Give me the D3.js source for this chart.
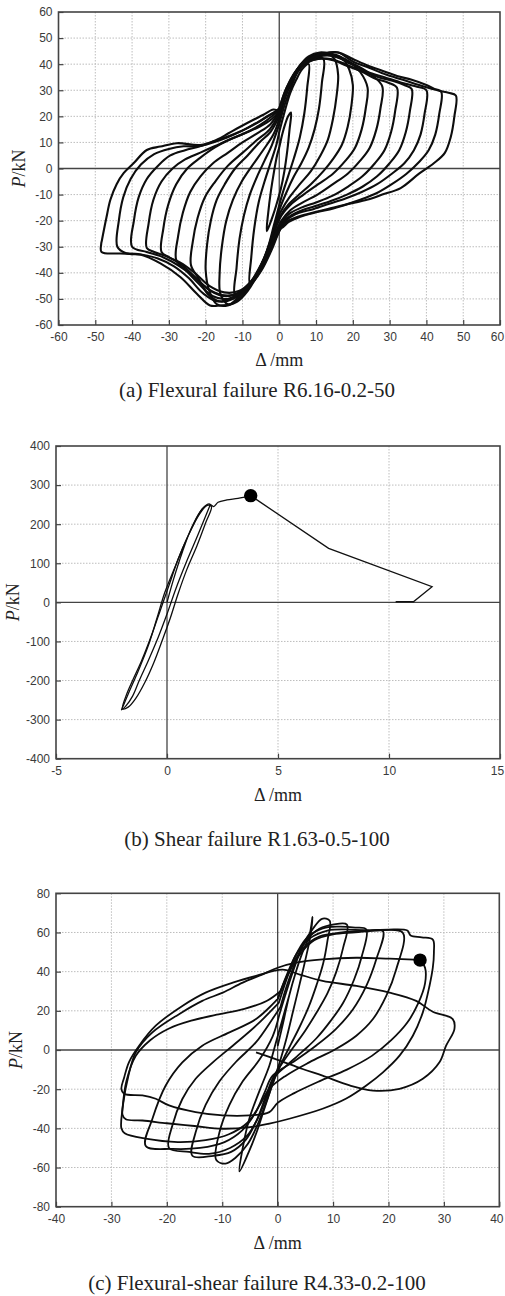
<!DOCTYPE html>
<html lang="en">
<head>
<meta charset="UTF-8">
<title>Hysteresis curves</title>
<script src="https://d3js.org/d3.v7.min.js"></script>
<style>
  body { margin: 0; background: #fff; }
  svg { display: block; }
  .tick text { font-family: Arial, "Liberation Sans", sans-serif; font-size: 12px; fill: #3a3a3a; }
  .tick line { stroke: #444; stroke-width: 1.2; }
  .title { font-family: "Liberation Serif", "Times New Roman", serif; fill: #222; }
</style>
</head>
<body>
<script>
// ---- (a) Flexural failure: ticks
const xTicksA = [-60, -50, -40, -30, -20, -10, 0, 10, 20, 30, 40, 50, 60];
const yTicksA = [-60, -50, -40, -30, -20, -10, 0, 10, 20, 30, 40, 50, 60];

// (a) one loop per displacement level, [mm, kN]
const a04 = [[0,8],[0.8,13],[1.6,17],[2.4,20],[3.2,21.5],[2.8,15],[2.2,7],[1.4,-1],[0.4,-8],[-0.8,-14],[-1.7,-18],[-2.6,-21.5],[-3.4,-24],[-3,-17],[-2.3,-9],[-1.4,-1],[-0.6,5],[0,8]];
const a08 = [[0,14],[1.5,22],[3,29],[4.6,34],[6.2,38],[8,40],[7.6,31],[6.8,21],[5.6,12],[4,4],[2.4,-3],[0.8,-10],[0,-14],[-1.5,-22],[-3,-30],[-4.6,-36],[-6.2,-41],[-8,-44],[-7.6,-34],[-6.8,-23],[-5.6,-13],[-4,-5],[-2.4,2],[-0.8,9],[0,14]];
const a12 = [[0,17],[1.6,25],[3.2,31],[5,37],[7,40.5],[9.4,42.5],[12,42],[11.6,33],[10.8,23],[9.6,15],[8,8],[6,2],[4,-3],[2,-9],[0,-16],[-1.6,-24],[-3.2,-31],[-5,-38],[-7,-43],[-9.4,-47],[-12,-48.5],[-11.6,-38],[-10.8,-27],[-9.6,-18],[-8,-10],[-6,-3],[-4,3],[-2,9],[0,17]];
const a16 = [[0,19],[1.6,27],[3.4,33],[5.4,38.5],[7.6,42],[10,43.5],[13,44],[15,42],[16,36],[15.6,28],[14.6,19],[13.2,11],[11.2,5],[8.6,-1],[5.6,-6],[2.8,-11],[0.6,-16],[-0.4,-19],[-2,-27],[-3.8,-34],[-6,-41],[-8.6,-47],[-11.4,-51],[-14,-52],[-16,-48],[-16.2,-40],[-15.6,-30],[-14.4,-20],[-12.6,-12],[-10.2,-5],[-7.4,1],[-4.4,7],[-1.6,13],[0,19]];
const a20 = [[0,20],[1.6,28],[3.4,34],[5.6,39.5],[8,43],[11,44.5],[14,44],[17,42.5],[19,38],[20,32],[19.6,24],[18.6,16],[17,9],[14.8,4],[12,-1],[8.6,-6],[5.4,-10],[2.4,-14],[0.4,-18],[-1.6,-25],[-3.4,-32],[-5.6,-39],[-8,-45],[-11,-50],[-14,-52.5],[-17,-52],[-19,-47],[-20,-39],[-19.6,-29],[-18.6,-20],[-17,-12],[-14.8,-6],[-12,0],[-8.6,5],[-5.4,10],[-2.4,14],[0,20]];
const a24 = [[0,21],[1.8,29],[3.8,35],[6,40],[8.6,43],[12,44],[16,43],[19,41],[22,37],[24,31],[23.5,23],[22.4,15],[20.6,8],[18,3],[14.6,-2],[10.6,-6],[6.6,-10],[3,-14],[0.6,-18],[-1.6,-25],[-3.6,-33],[-6,-40],[-9,-46],[-12.5,-50],[-16,-51],[-19.5,-48],[-22,-42],[-24,-37],[-23.5,-28],[-22.2,-19],[-20.2,-11],[-17.4,-5],[-14,1],[-10,6],[-6,11],[-2.6,15],[0,21]];
const a28 = [[0,22],[2,30],[4,36],[6.4,40.5],[9.4,43],[13,43.5],[17,42],[21,39.5],[25,36],[28,31.5],[27.5,23],[26.4,15],[24.6,8],[22,3],[18.6,-2],[14.6,-6],[10.4,-10],[6.4,-13],[3,-16],[0.6,-20],[-1.8,-27],[-4,-35],[-6.6,-42],[-10,-47],[-14,-50],[-18,-49],[-22,-44],[-25.4,-39],[-28,-35],[-27.5,-26],[-26.2,-17],[-24.2,-9],[-21.4,-3],[-18,2],[-14,6],[-10,10],[-6,13.5],[-2.4,17],[0,22]];
const a32 = [[0,22],[2,30],[4.2,36],[7,40],[10,42],[14,42],[18,40],[22,37.5],[26,34.5],[29.5,33],[32,31],[31.5,22],[30.4,14],[28.6,7],[26,2],[22.6,-3],[18.6,-7],[14.4,-10.5],[10,-13],[6,-15],[2.6,-17.5],[0.6,-21],[-1.8,-28],[-4.2,-36],[-7,-42],[-10.4,-47],[-14.4,-49],[-18.6,-47],[-22.6,-42],[-26.4,-37],[-30,-34],[-32,-32],[-31.5,-23],[-30.2,-14],[-28,-6],[-25,0],[-21.6,4],[-17.6,8],[-13.6,11],[-9.4,13.5],[-5.4,16],[-2,19],[0,22]];
const a36 = [[0,23],[2,31],[4.4,37],[7.4,40.5],[10.6,42],[14.6,41.5],[19,39],[23,37],[27,35],[31,33.5],[34,32],[36,30.5],[35.5,22],[34.4,14],[32.6,7],[30,2],[26.6,-3],[22.6,-7],[18.4,-10],[14,-12.5],[9.6,-14.5],[5.4,-16.5],[2.2,-19],[0.4,-22],[-2,-29],[-4.4,-37],[-7.4,-43],[-11,-47],[-15,-47.5],[-19,-45],[-23,-40],[-27,-36],[-31,-33.5],[-34,-32],[-36,-30.5],[-35.5,-21],[-34.2,-12],[-32,-5],[-29,0],[-25.6,3.5],[-21.6,6],[-17.6,8.5],[-13.6,11],[-9.4,13.5],[-5.4,16.5],[-2,20],[0,23]];
const a40 = [[0,23],[2,31],[4.6,37],[7.6,41],[11,43],[15,43],[19.5,40],[24,37],[28.6,35],[33,33],[37,31.5],[40,30],[39.5,21],[38.4,13],[36.6,7],[34,2],[30.6,-2],[26.6,-6],[22.4,-9],[18,-11.5],[13.6,-13.5],[9.4,-15.5],[5.4,-17],[2.2,-19.5],[0.4,-23],[-2,-30],[-4.6,-38],[-7.6,-44],[-11.4,-48],[-15.6,-48.5],[-19.6,-46],[-23.6,-41],[-27.6,-37],[-31.6,-34],[-36,-32],[-40,-30],[-39.5,-20],[-38.2,-11],[-36,-4],[-33,1],[-29.6,5],[-25.6,7],[-21.6,8.5],[-17.6,10.5],[-13.6,12.5],[-9.4,15],[-5.4,18],[-2,21],[0,23]];
const a44 = [[0,22],[2.2,31],[4.8,38],[8,42],[11.6,44],[16,44.5],[20,41],[24.6,38.5],[29,36],[33.6,34],[38,32],[41.6,30.5],[44,29.5],[43.5,21],[42.4,13],[40.6,7],[38,2.5],[34.6,-2],[30.6,-6],[26.4,-9.5],[22,-12],[17.6,-14],[13.2,-15.5],[9,-17],[5,-18.5],[2,-20.5],[0.4,-23],[-2,-31],[-4.8,-39],[-8,-45],[-12,-49],[-16.6,-51],[-20.6,-48],[-24.6,-42],[-28.6,-37.5],[-33,-34.5],[-37.6,-33],[-41.6,-32.5],[-44,-30],[-43.6,-20],[-42.4,-11],[-40.4,-4],[-37.6,1.5],[-34,5.5],[-30,7.5],[-26,8.5],[-22,8.5],[-18,10],[-14,12],[-10,14.5],[-5.6,18],[-2,21],[0,22]];
const a48 = [[0,22],[2.2,30],[5,37],[8.4,42],[12,44],[16,44.5],[20,42],[24,39.5],[28,37.5],[32,35.5],[36,34],[40,32],[43,30],[46,29],[48,28],[47.6,20],[46.6,12],[45,6],[42,2],[38,-2],[33,-7.5],[28,-10],[23.8,-12],[18.8,-13.6],[14.7,-15.3],[10,-16.8],[5.7,-18.5],[2.6,-20.5],[1.1,-22.4],[-0.6,-24],[-2.4,-30],[-4.3,-35],[-6.2,-40],[-8.4,-45],[-10.6,-48.5],[-13.3,-52],[-16,-52.5],[-18.8,-52.5],[-22.4,-48],[-26.9,-41.6],[-32.3,-36.4],[-37.8,-33],[-43.2,-32.6],[-48.3,-32],[-48.4,-29],[-48.2,-27.5],[-47,-19],[-45.9,-12],[-44.2,-6],[-42.3,-1.8],[-39.6,2],[-36,7.1],[-32.3,8.4],[-27.8,9.7],[-21.5,9],[-17,11],[-13.8,13.5],[-10.6,16],[-7.4,18.4],[-4.3,20.6],[-1.6,22.6],[0,22]];

// ---- (b) Shear failure
const xTicksB = [-5, 0, 5, 10, 15];
const yTicksB = [-400, -300, -200, -100, 0, 100, 200, 300, 400];
const bLoop1 = [[0,0],[0.3,60],[0.7,130],[1.1,190],[1.5,232],[1.8,248],[2.0,245],[1.75,205],[1.35,145],[0.9,85],[0.5,22],[0.15,-40],[-0.2,-95],[-0.6,-155],[-1.0,-205],[-1.4,-245],[-1.75,-268],[-2.0,-272],[-1.85,-240],[-1.55,-200],[-1.15,-150],[-0.7,-85],[-0.3,-20],[0.1,45],[0.5,110],[0.95,170],[1.4,220],[1.75,246],[1.95,250]];
const bLoop2 = [[1.95,250],[1.7,215],[1.3,160],[0.85,100],[0.4,35],[0,-30],[-0.4,-90],[-0.85,-150],[-1.25,-200],[-1.55,-240],[-1.85,-265],[-2.05,-275],[-1.95,-262],[-1.7,-228],[-1.3,-176],[-0.85,-112],[-0.45,-40],[-0.1,25],[0.3,82],[0.75,145],[1.2,200],[1.6,240],[1.9,252],[2.1,245],[2.3,256],[2.7,262],[3.2,266],[3.77,273]];
const bPost = [[3.77,273],[7.28,138],[11.94,40],[11.1,1.5],[10.3,1.5]];
const bPeak = [3.77, 273];

// ---- (c) Flexural-shear failure
const xTicksC = [-40, -30, -20, -10, 0, 10, 20, 30, 40];
const yTicksC = [-80, -60, -40, -20, 0, 20, 40, 60, 80];
const c1 = [[0,2],[1,14],[2.1,28],[3.3,40],[4.5,50],[5.7,58],[6.3,68],[5.9,58],[5,46],[4,34],[2.8,20],[1.6,6],[0.4,-6],[-1,-18],[-2.4,-30],[-3.8,-42],[-5.2,-52],[-6.9,-62],[-6.3,-50],[-5.1,-35],[-3.3,-21],[-1.5,-8],[-0.3,4],[0.9,16],[2.1,28]];
const c2 = [[0.3,18],[1.6,30],[3,42],[4.6,54],[6.4,62],[8,67],[9.4,66],[9,56],[8.2,44],[7,33],[5.6,22],[4,12],[2.4,3],[0.8,-6],[-0.6,-15],[-2,-26],[-3.6,-38],[-5.4,-48],[-7.6,-55],[-9.4,-58],[-11.1,-56],[-10.5,-42],[-8.7,-28],[-6.3,-16],[-3.3,-5],[-0.9,7],[0.3,18]];
const c3 = [[0.5,22],[1.8,34],[3.4,46],[5.2,56],[7.6,62],[10,64],[12.5,64],[11.8,52],[10.6,40],[9,29],[7,19],[5,10],[3,2],[1,-6],[-0.8,-14],[-2.2,-24],[-3.8,-36],[-5.8,-46],[-8.4,-52],[-11.6,-54],[-15.4,-54],[-14.8,-42],[-13,-28],[-10.5,-16],[-7.5,-6],[-3.9,4],[-0.9,16],[0.5,22]];
const c4 = [[0.2,24],[1.6,36],[3.2,48],[5.2,57],[8,62],[11,63],[14,62.5],[16,61.5],[15.2,48],[13.8,36],[11.8,24],[9.6,15],[7,6],[4.4,-1],[1.6,-8],[-0.6,-14],[-2,-24],[-3.6,-35],[-5.6,-44],[-8.6,-50],[-12.4,-53],[-16,-52],[-19.6,-50],[-19,-38.5],[-17.2,-25],[-14.8,-14.7],[-11.7,-6.3],[-8.1,2.2],[-3.9,12.4],[0.2,24]];
const c5 = [[0,26],[1.6,38],[3.4,49],[5.8,57],[9,61],[13,61.5],[16.5,61],[19,60.7],[17.8,46.3],[16,32.7],[13.6,20.8],[10.5,10.7],[6.9,2.2],[2.7,-6.3],[-0.9,-13.1],[-2.4,-22],[-4,-32],[-6.4,-41],[-9.6,-47],[-14,-50],[-19,-50.5],[-23.8,-49],[-22.6,-35.1],[-20.2,-18.1],[-17.2,-6.3],[-13.6,2.2],[-8.7,9],[-3.9,15.8],[0,26]];
const c6 = [[0,26],[1.8,38],[3.8,48],[6.6,56],[10,59],[14,60],[18,61],[22.6,59.8],[21.4,41.2],[19.6,27.6],[17.2,15.8],[14.2,7.3],[10.5,0.5],[5.7,-6.3],[1.5,-13.1],[-1.5,-19.8],[-3.2,-28],[-5.4,-37],[-8.8,-43],[-13,-46],[-18,-47],[-23.8,-45.3],[-27.6,-42.5],[-28.2,-40],[-28,-30],[-27.3,-16],[-25.6,-3],[-23,5],[-19.6,11],[-15.6,15],[-11,18],[-6,21],[-2,25],[0.5,30]];
const c7 = [[0.5,30],[2.4,42],[4.6,52],[7.6,58],[11.6,60],[16,61],[20,61.5],[23.4,61],[24,58.5],[26,57.5],[28,56.4],[28.2,50],[28,42],[27.4,32.7],[26.2,19.2],[24.4,7.3],[22,-2.9],[19,-11.4],[16,-18.1],[12.3,-24.9],[8.1,-30],[2.1,-35.1],[-1.5,-37.6],[-5,-39.4],[-10,-40.2],[-15,-38.8],[-20,-37.4],[-24.4,-36],[-27.4,-35.4],[-28,-33],[-27.8,-26],[-27,-14],[-25.6,-1.2],[-22.6,9],[-17.8,18.3],[-13.6,25.1],[-9.9,29.3],[-6.3,34.4],[-2.7,38.6],[0,42],[3.3,44.6],[8.1,46.3],[14.2,47.1],[20.2,46.6],[25.7,46]];
const c8 = [[25.7,46],[26.6,42],[26.6,34],[25.4,24],[23.4,14],[20.5,5],[17,-3],[12.5,-10],[7.5,-16],[3,-22],[0,-27],[-1.5,-31.7],[-5.1,-33.4],[-9.9,-33.4],[-14.8,-31.7],[-19.6,-28.3],[-22,-24.9],[-24.4,-23.2],[-27.7,-22.4],[-28.2,-20],[-27.7,-14],[-26.8,-6],[-25,2.2],[-22,12.4],[-17.2,22.5],[-13,29.3],[-8.1,34.4],[-3.9,37.8],[0.9,41],[4,38.5],[8.1,35.3],[14.2,32.7],[20.2,29.3],[25,25.1],[28,19.5],[31.6,15.8],[31.9,10.7],[30.4,2.2],[29.2,-6.3],[26.2,-14.7],[22,-19.8],[17.2,-20.7],[13,-18.1],[8.1,-13.1],[4.5,-9.7],[0,-5],[-3.9,-1.2]];
const cPeak = [25.7, 45.9];

const W = 505, H = 1296;
const svg = d3.select("body").append("svg")
    .attr("width", W)
    .attr("height", H);

const panels = [
  { xDomain: [-60, 60], yDomain: [-60, 60], left: 58.5, right: 500, top: 12, bottom: 325,
    xTicks: xTicksA, yTicks: yTicksA, loops: [a04, a08, a12, a16, a20, a24, a28, a32, a36, a40, a44, a48],
    lineWidth: 2.1, straight: [], peak: null,
    xTitleY: 366, yTitleX: 19, caption: "(a) Flexural failure R6.16-0.2-50", captionY: 397 },
  { xDomain: [-5, 15], yDomain: [-400, 400], left: 56, right: 500, top: 446, bottom: 758.7,
    xTicks: xTicksB, yTicks: yTicksB, loops: [bLoop1, bLoop2],
    lineWidth: 1.3, straight: [bPost], peak: bPeak,
    xTitleY: 801, yTitleX: 13, caption: "(b) Shear failure R1.63-0.5-100", captionY: 846 },
  { xDomain: [-40, 40], yDomain: [-80, 80], left: 56, right: 499.3, top: 893.3, bottom: 1206.7,
    xTicks: xTicksC, yTicks: yTicksC, loops: [c1, c2, c3, c4, c5, c6, c7, c8],
    lineWidth: 1.8, straight: [], peak: cPeak,
    xTitleY: 1249, yTitleX: 16, caption: "(c) Flexural-shear failure R4.33-0.2-100", captionY: 1290 }
];

panels.forEach(drawPanel);

function drawPanel(p) {
  const x = d3.scaleLinear().domain(p.xDomain).range([p.left, p.right]);
  const y = d3.scaleLinear().domain(p.yDomain).range([p.bottom, p.top]);
  const g = svg.append("g");

  // dotted grid
  const inner = (t, dom) => t !== 0 && t !== dom[0] && t !== dom[1];
  g.selectAll(".gx").data(p.xTicks.filter(t => inner(t, p.xDomain))).enter()
    .append("line")
      .attr("x1", d => x(d)).attr("x2", d => x(d))
      .attr("y1", p.top).attr("y2", p.bottom)
      .attr("stroke", "#bdbdbd").attr("stroke-width", 1)
      .attr("stroke-dasharray", "1.5,1.5");
  g.selectAll(".gy").data(p.yTicks.filter(t => inner(t, p.yDomain))).enter()
    .append("line")
      .attr("x1", p.left).attr("x2", p.right)
      .attr("y1", d => y(d)).attr("y2", d => y(d))
      .attr("stroke", "#bdbdbd").attr("stroke-width", 1)
      .attr("stroke-dasharray", "1.5,1.5");

  // zero lines
  g.append("line").attr("x1", x(0)).attr("x2", x(0)).attr("y1", p.top).attr("y2", p.bottom)
    .attr("stroke", "#444").attr("stroke-width", 1.3);
  g.append("line").attr("x1", p.left).attr("x2", p.right).attr("y1", y(0)).attr("y2", y(0))
    .attr("stroke", "#444").attr("stroke-width", 1.3);

  // axes with inward ticks, plain hyphen for negatives
  const fmt = d => String(d);
  const xAxis = g.append("g")
    .attr("transform", "translate(0," + p.bottom + ")")
    .call(d3.axisBottom(x).tickValues(p.xTicks).tickFormat(fmt)
      .tickSizeInner(-5).tickSizeOuter(0).tickPadding(7.5));
  const yAxis = g.append("g")
    .attr("transform", "translate(" + p.left + ",0)")
    .call(d3.axisLeft(y).tickValues(p.yTicks).tickFormat(fmt)
      .tickSizeInner(-5).tickSizeOuter(0).tickPadding(6));
  xAxis.select(".domain").remove();
  yAxis.select(".domain").remove();
  // keep the last x label inside the page
  xAxis.selectAll(".tick text").filter(d => d === p.xDomain[1]).attr("dx", "-3");

  // curves
  const line = d3.line()
    .x(d => x(d[0]))
    .y(d => y(d[1]))
    .curve(d3.curveCatmullRom.alpha(0.5));
  g.selectAll(".loop").data(p.loops).enter()
    .append("path")
      .attr("d", line)
      .attr("fill", "none")
      .attr("stroke", "#0d0d0d")
      .attr("stroke-width", p.lineWidth)
      .attr("stroke-linejoin", "round");

  const lineStraight = d3.line().x(d => x(d[0])).y(d => y(d[1]));
  g.selectAll(".post").data(p.straight).enter()
    .append("path")
      .attr("d", lineStraight)
      .attr("fill", "none")
      .attr("stroke", "#111")
      .attr("stroke-width", p.lineWidth);

  if (p.peak) {
    g.append("circle")
      .attr("cx", x(p.peak[0])).attr("cy", y(p.peak[1]))
      .attr("r", 6.7).attr("fill", "#000");
  }

  // frame
  g.append("rect")
    .attr("x", p.left).attr("y", p.top)
    .attr("width", p.right - p.left).attr("height", p.bottom - p.top)
    .attr("fill", "none").attr("stroke", "#444").attr("stroke-width", 1.6);

  // titles
  const cx = (p.left + p.right) / 2;
  g.append("text").attr("class", "title")
    .attr("x", cx).attr("y", p.xTitleY)
    .attr("text-anchor", "middle").style("font-size", "18px")
    .text("\u0394 /mm");

  const yt = g.append("text").attr("class", "title")
    .attr("transform", "translate(" + p.yTitleX + "," + y(0) + ") rotate(-90)")
    .attr("dy", "0.35em")
    .attr("text-anchor", "middle").style("font-size", "18px");
  yt.append("tspan").style("font-style", "italic").text("P");
  yt.append("tspan").text("/kN");

  g.append("text").attr("class", "title")
    .attr("x", 257).attr("y", p.captionY)
    .attr("text-anchor", "middle").style("font-size", "21px")
    .text(p.caption);
}
</script>
</body>
</html>
